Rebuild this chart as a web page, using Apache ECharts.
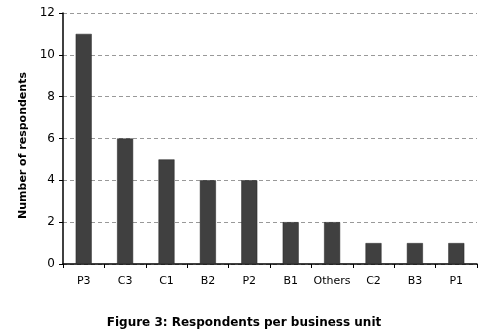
<!DOCTYPE html>
<html>
<head>
<meta charset="utf-8">
<script src="https://cdn.jsdelivr.net/npm/echarts@6/dist/echarts.min.js"></script>
<style>
  html, body { margin: 0; padding: 0; background: #fff; }
  #chart { width: 488px; height: 330px; }
</style>
</head>
<body>
<div id="chart"></div>
<script>
const units = ['P3', 'C3', 'C1', 'B2', 'P2', 'B1', 'Others', 'C2', 'B3', 'P1']
const respondents = [11, 6, 5, 4, 4, 2, 2, 1, 1, 1]
const yTicks = [0, 2, 4, 6, 8, 10, 12]

const font = 'DejaVu Sans'
const chart = echarts.init(document.getElementById('chart'))
const option = {
  backgroundColor: '#fff',
  animation: false,
  title: {
    text: 'Figure 3: Respondents per business unit',
    left: 'center',
    top: 312,
    textStyle: {
      fontFamily: font,
      fontSize: 12,
      fontWeight: 'bold',
      color: '#000',
    },
  },
  grid: {
    left: 63,
    right: 11,
    top: 13,
    bottom: 66,
  },
  xAxis: {
    type: 'category',
    data: units,
    axisLine: {
      lineStyle: { color: '#000', width: 1.5 },
    },
    axisTick: {
      show: true,
      length: 4,
      lineStyle: { color: '#000' },
    },
    axisLabel: {
      interval: 0,
      fontFamily: font,
      fontSize: 11,
      color: '#000',
      margin: 12,
    },
  },
  yAxis: {
    type: 'value',
    min: yTicks[0],
    max: yTicks[yTicks.length - 1],
    interval: 2,
    name: 'Number of respondents',
    nameLocation: 'middle',
    nameGap: 33,
    nameTextStyle: {
      fontFamily: font,
      fontSize: 11,
      fontWeight: 'bold',
      color: '#000',
      padding: [0, 14, 0, 0],
    },
    axisLine: {
      show: true,
      lineStyle: { color: '#000', width: 1.5 },
    },
    axisTick: {
      show: true,
      length: 4,
      lineStyle: { color: '#000' },
    },
    axisLabel: {
      fontFamily: font,
      fontSize: 12,
      color: '#000',
      margin: 8,
    },
    splitLine: {
      lineStyle: { color: '#999', type: [4, 3] },
    },
  },
  series: [
    {
      type: 'bar',
      data: respondents,
      barWidth: 16,
      itemStyle: {
        color: '#404040',
        borderColor: '#222',
        borderWidth: 0.5,
      },
    },
  ],
}
chart.setOption(option)
</script>
</body>
</html>
